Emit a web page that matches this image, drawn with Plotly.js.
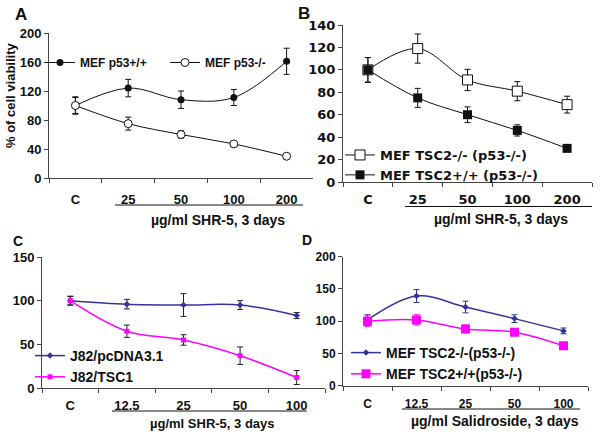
<!DOCTYPE html>
<html>
<head>
<meta charset="utf-8">
<script src="https://cdn.plot.ly/plotly-3.0.1.min.js"></script>
<style>
  html, body { margin: 0; padding: 0; background: #fff; }
  #chart { width: 600px; height: 437px; }
</style>
</head>
<body>
<div id="chart"></div>
<script>
// ---- data ----
const dosesAB = ['C', '25', '50', '100', '200'];
const dosesCD = ['C', '12.5', '25', '50', '100'];

// A: MEF p53
const p53WtMean = [100, 124, 108, 111, 161];
const p53WtErr  = [12, 12, 12, 11, 18];
const p53KoMean = [100, 75, 60, 47, 30];
const p53KoErr  = [11, 9, 5, 3, 3];

// B: MEF TSC2 (p53-/-)
const tsc2KoMean = [100, 119, 91, 81, 69];
const tsc2KoErr  = [11, 13, 9.5, 8.5, 7.5];
const tsc2WtMean = [100, 75, 60, 46, 30];
const tsc2WtErr  = [11, 8.5, 7, 5, 2];

// C: J82 cells
const pcdnaMean = [100, 96, 95, 95, 83];
const pcdnaErr  = [5, 5.5, 13, 5, 3.5];
const tsc1Mean  = [100, 65, 55, 37, 12];
const tsc1Err   = [5, 7, 6, 10, 8];

// D: Salidroside
const saliKoMean = [102, 139, 122, 104, 85];
const saliKoErr  = [8, 10, 9, 6, 4.5];
const saliWtMean = [100, 102, 88, 83, 62];
const saliWtErr  = [8, 8, 6, 5, 5];

const W = 600, H = 437;
const px = v => v / W;          // pixel -> paper (x)
const py = v => 1 - v / H;      // pixel -> paper (y)

const NAVY = '#333399';
const MAGENTA = '#ff00ff';
const AX = '#444';
const arialBold = size => ({ family: 'Liberation Sans, Arial, sans-serif', size: size, color: '#111', weight: 'bold' });
const dejaBold = size => ({ family: 'DejaVu Sans, sans-serif', size: size, color: '#111', weight: 'bold' });

// helper: one series with error bars
function series(x, y, err, name, xa, ya, leg, style) {
    return {
        x: x, y: y, name: name,
        type: 'scatter', mode: 'lines+markers',
        xaxis: xa, yaxis: ya, legend: leg,
        line: { color: style.line, width: style.width || 1, shape: 'spline', smoothing: 1 },
        marker: style.marker,
        error_y: { type: 'data', array: err, visible: true, color: style.err || style.line, thickness: 1, width: 3 },
        hoverinfo: 'skip'
    };
}

// --- Panel A ---
const traceA1 = series(dosesAB, p53WtMean, p53WtErr, 'MEF p53+/+', 'x', 'y', 'legend',
    { line: '#111', marker: { symbol: 'circle', size: 7, color: '#111' } });
const traceA2 = series(dosesAB, p53KoMean, p53KoErr, 'MEF p53-/-', 'x', 'y', 'legend',
    { line: '#111', marker: { symbol: 'circle', size: 8, color: '#fff', line: { color: '#111', width: 1 } } });

// --- Panel B ---
const traceB1 = series(dosesAB, tsc2KoMean, tsc2KoErr, 'MEF TSC2-/- (p53-/-)', 'x2', 'y2', 'legend2',
    { line: '#111', marker: { symbol: 'square', size: 10, color: '#fff', line: { color: '#111', width: 1 } } });
const traceB2 = series(dosesAB, tsc2WtMean, tsc2WtErr, 'MEF TSC2+/+ (p53-/-)', 'x2', 'y2', 'legend2',
    { line: '#111', marker: { symbol: 'square', size: 9, color: '#111' } });

// --- Panel C ---
const traceC1 = series(dosesCD, pcdnaMean, pcdnaErr, 'J82/pcDNA3.1', 'x3', 'y3', 'legend3',
    { line: NAVY, width: 1.5, err: '#222', marker: { symbol: 'diamond', size: 5, color: NAVY } });
const traceC2 = series(dosesCD, tsc1Mean, tsc1Err, 'J82/TSC1', 'x3', 'y3', 'legend3',
    { line: MAGENTA, width: 1.5, err: '#222', marker: { symbol: 'square', size: 5, color: MAGENTA } });

// --- Panel D ---
const traceD1 = series(dosesCD, saliKoMean, saliKoErr, 'MEF TSC2-/-(p53-/-)', 'x4', 'y4', 'legend4',
    { line: NAVY, width: 1.5, err: NAVY, marker: { symbol: 'diamond', size: 5, color: NAVY } });
const traceD2 = series(dosesCD, saliWtMean, saliWtErr, 'MEF TSC2+/+(p53-/-)', 'x4', 'y4', 'legend4',
    { line: MAGENTA, width: 1.5, err: MAGENTA, marker: { symbol: 'square', size: 9, color: MAGENTA } });

// axes
function xAxis(cats, dom, anchor, font, standoff) {
    return {
        domain: dom, anchor: anchor, type: 'category', categoryarray: cats,
        range: [-0.5, 4.5], showline: true, linecolor: AX, linewidth: 1,
        ticks: 'outside', ticklen: 4, tickcolor: AX, tickson: 'boundaries',
        ticklabelstandoff: standoff, tickfont: font,
        showgrid: false, zeroline: false, fixedrange: true
    };
}
function yAxis(dom, anchor, range, dtick, font) {
    return {
        domain: dom, anchor: anchor, range: range, dtick: dtick,
        showline: true, linecolor: AX, linewidth: 1,
        ticks: 'outside', ticklen: 4, tickcolor: AX, tickfont: font,
        showgrid: false, zeroline: false, fixedrange: true
    };
}

// underline below dose labels (category index units)
function underline(xref, x0, x1, yPix) {
    return { type: 'line', xref: xref, yref: 'paper', x0: x0, x1: x1, y0: py(yPix), y1: py(yPix),
             line: { color: '#111', width: 1 } };
}
function note(text, xPix, yPix, font, extra) {
    return Object.assign({ text: text, xref: 'paper', yref: 'paper', x: px(xPix), y: py(yPix),
             xanchor: 'center', yanchor: 'middle', showarrow: false, font: font }, extra || {});
}

const layout = {
    width: W, height: H,
    margin: { l: 0, r: 0, t: 0, b: 0 },
    paper_bgcolor: '#fff', plot_bgcolor: 'rgba(0,0,0,0)',
    showlegend: true, hovermode: false,

    xaxis:  xAxis(dosesAB, [px(49), px(313)], 'y', arialBold(13), 9),
    yaxis:  yAxis([py(178), py(33)], 'x', [0, 200], 40, arialBold(13)),
    xaxis2: xAxis(dosesAB, [px(343), px(592)], 'y2', dejaBold(13), 5),
    yaxis2: yAxis([py(182), py(25)], 'x2', [0, 140], 20, dejaBold(13)),
    xaxis3: xAxis(dosesCD, [px(42), px(325)], 'y3', arialBold(13), 5),
    yaxis3: yAxis([py(388), py(257)], 'x3', [0, 150], 50, arialBold(13)),
    xaxis4: xAxis(dosesCD, [px(343), px(588)], 'y4', arialBold(12), 7),
    yaxis4: yAxis([py(385.7), py(256.7)], 'x4', [0, 200], 50, arialBold(12)),

    legend:  { orientation: 'h', x: px(40), y: py(48), xanchor: 'left', yanchor: 'top',
               bgcolor: 'rgba(0,0,0,0)', font: arialBold(12), itemwidth: 30, entrywidth: 80 },
    legend2: { x: px(340), y: py(140), xanchor: 'left', yanchor: 'top', tracegroupgap: 0,
               bgcolor: 'rgba(0,0,0,0)', font: dejaBold(13), itemwidth: 30 },
    legend3: { x: px(30), y: py(340), xanchor: 'left', yanchor: 'top',
               bgcolor: 'rgba(0,0,0,0)', font: arialBold(14), itemwidth: 30 },
    legend4: { x: px(346), y: py(337), xanchor: 'left', yanchor: 'top',
               bgcolor: 'rgba(0,0,0,0)', font: arialBold(14), itemwidth: 30 },

    shapes: [
        underline('x', 0.75, 4.31, 205),
        underline('x2', 0.745, 4.5, 206.5),
        underline('x3', 0.737, 4.18, 411),
        underline('x4', 0.704, 4.34, 409)
    ],

    annotations: [
        note('A', 21, 14, arialBold(17)),
        note('B', 304, 13, arialBold(17)),
        note('C', 18, 241, arialBold(14)),
        note('D', 307, 240, arialBold(14)),
        note('% of cell viability', 11, 95, arialBold(13), { textangle: -90 }),
        note('µg/ml SHR-5, 3 days', 218, 220, arialBold(14)),
        note('µg/ml SHR-5, 3 days', 501, 219, arialBold(14)),
        note('µg/ml SHR-5, 3 days', 212, 423, arialBold(13)),
        note('µg/ml Salidroside, 3 days', 495, 421, arialBold(14))
    ]
};

const data = [traceA1, traceA2, traceB1, traceB2, traceC1, traceC2, traceD1, traceD2];
Plotly.newPlot('chart', data, layout, { staticPlot: true, displayModeBar: false });
</script>
</body>
</html>
